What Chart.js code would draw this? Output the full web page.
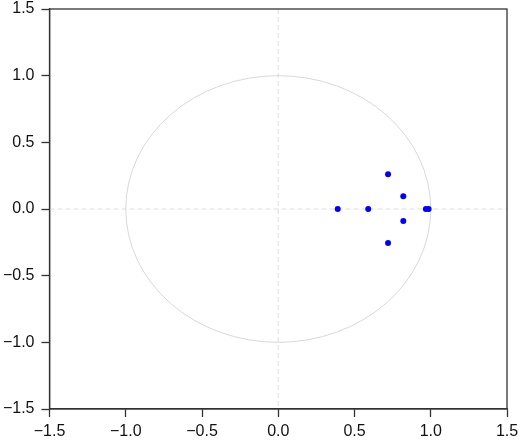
<!DOCTYPE html>
<html>
<head>
<meta charset="utf-8">
<script src="https://cdn.jsdelivr.net/npm/chart.js@4.4.1/dist/chart.umd.min.js"></script>
<style>
html,body{margin:0;padding:0;background:#fff;}
#wrap{width:520px;height:441px;position:relative;}
</style>
</head>
<body>
<div id="wrap"><canvas id="c" width="520" height="441"></canvas></div>
<script>
// Eigenvalues (real part, imaginary part)
const realParts = [0.39, 0.59, 0.72, 0.72, 0.82, 0.82, 0.968, 0.986];
const imagParts = [0.0, 0.0, 0.26, -0.255, 0.095, -0.09, 0.0, 0.0];
const tickValues = [-1.5, -1.0, -0.5, 0.0, 0.5, 1.0, 1.5];
const axisMin = -1.5, axisMax = 1.5;
const unitRadius = 1.0;

const points = realParts.map((r, i) => ({x: r, y: imagParts[i]}));

function fmt(v){
  const s = Math.abs(v).toFixed(1);
  return (v < -1e-9 ? '\u2212' : '') + s;
}

const decor = {
  id: 'decor',
  beforeDatasetsDraw(chart){
    const {ctx, chartArea: a, scales: {x, y}} = chart;
    ctx.save();
    ctx.beginPath();
    ctx.rect(a.left, a.top, a.right - a.left, a.bottom - a.top);
    ctx.clip();
    ctx.strokeStyle = '#dedede';
    ctx.lineWidth = 1;
    ctx.setLineDash([5, 3]);
    const x0 = x.getPixelForValue(0), y0 = y.getPixelForValue(0);
    ctx.beginPath();
    ctx.moveTo(x0, a.top); ctx.lineTo(x0, a.bottom);
    ctx.moveTo(a.left, y0); ctx.lineTo(a.right, y0);
    ctx.stroke();
    ctx.setLineDash([]);
    const rx = Math.abs(x.getPixelForValue(unitRadius) - x0);
    const ry = Math.abs(y.getPixelForValue(unitRadius) - y0);
    ctx.strokeStyle = '#d8d8d8';
    ctx.beginPath();
    ctx.ellipse(x0, y0, rx, ry, 0, 0, Math.PI * 2);
    ctx.stroke();
    ctx.restore();
  },
  afterDraw(chart){
    const {ctx, chartArea: a} = chart;
    ctx.save();
    ctx.strokeStyle = '#333';
    ctx.lineWidth = 1.3;
    ctx.strokeRect(a.left, a.top, a.right - a.left, a.bottom - a.top);
    ctx.restore();
  }
};

const tickFont = {family: '"Liberation Sans", Arial, Helvetica, sans-serif', size: 16};

function noPad(s){ s.paddingTop = 0; s.paddingBottom = 0; s.paddingLeft = 0; s.paddingRight = 0; }

new Chart(document.getElementById('c'), {
  type: 'scatter',
  data: {
    datasets: [{
      data: points,
      backgroundColor: '#0000ff',
      borderColor: '#0000ff',
      pointRadius: 3,
      pointHoverRadius: 3,
      borderWidth: 0
    }]
  },
  options: {
    responsive: false,
    animation: false,
    devicePixelRatio: 1,
    layout: {padding: {top: 9, right: 13, left: 0, bottom: 0}},
    plugins: {legend: {display: false}, tooltip: {enabled: false}},
    scales: {
      x: {
        type: 'linear', min: axisMin, max: axisMax,
        afterBuildTicks: s => { s.ticks = tickValues.map(v => ({value: v})); },
        afterFit: s => { s.height = 32; noPad(s); },
        grid: {drawOnChartArea: false, drawTicks: true, tickLength: 8, tickColor: '#333', tickWidth: 1.3},
        border: {display: true, color: '#333', width: 1.3},
        ticks: {color: '#111', font: tickFont, padding: 5, maxRotation: 0, autoSkip: false,
                callback: v => fmt(v)}
      },
      y: {
        type: 'linear', min: axisMin, max: axisMax,
        afterBuildTicks: s => { s.ticks = tickValues.map(v => ({value: v})); },
        afterFit: s => { s.width = 49.5; noPad(s); },
        grid: {drawOnChartArea: false, drawTicks: true, tickLength: 8, tickColor: '#333', tickWidth: 1.3},
        border: {display: true, color: '#333', width: 1.3},
        ticks: {color: '#111', font: tickFont, padding: 7, autoSkip: false,
                callback: v => fmt(v)}
      }
    }
  },
  plugins: [decor]
});
</script>
</body>
</html>
